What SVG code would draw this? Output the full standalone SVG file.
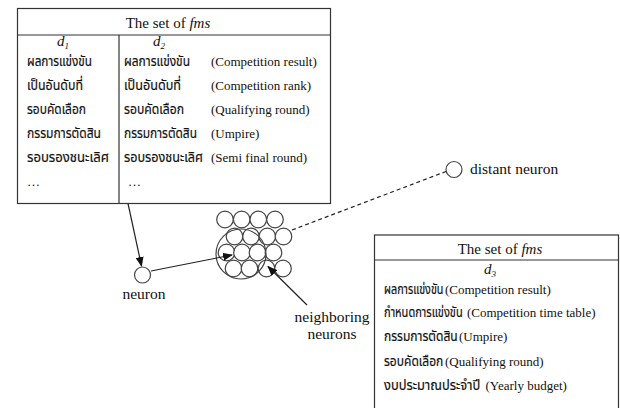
<svg xmlns="http://www.w3.org/2000/svg" width="620" height="408" viewBox="0 0 620 408">
<style>
text{font-family:'Liberation Serif','Times New Roman',Tinos,'DejaVu Serif',serif;font-size:13px;fill:#111}
.th{font-family:'Noto Sans Thai','Noto Serif Thai','Noto Sans',sans-serif;font-size:14px;fill:#111;stroke:#111;stroke-width:0.2}
.t{font-size:15px}
.lbl{font-size:15.5px}
.box{fill:#fff;stroke:#333;stroke-width:1.2}
.ln{stroke:#333;stroke-width:1.2;fill:none}
.c{fill:#fff;stroke:#444;stroke-width:1.2}
.cl{fill:none;stroke:#444;stroke-width:1.2}
.con{stroke:#222;stroke-width:1.2;fill:none}
</style>
<defs>
<marker id="ah" markerWidth="10" markerHeight="8" refX="9" refY="4" orient="auto" markerUnits="userSpaceOnUse">
<path d="M0,0 L10,4 L0,8 Z" fill="#111"/>
</marker>
</defs>
<rect width="620" height="408" fill="#fff"/>

<g id="fms-top">
<rect class="box" x="17.5" y="8.5" width="313" height="195"/>
<line class="ln" x1="17.5" y1="35" x2="330.5" y2="35"/>
<line class="ln" x1="119" y1="35" x2="119" y2="203.5"/>
<text class="t" x="168" y="28" text-anchor="middle">The set of <tspan font-style="italic">fms</tspan></text>
<text x="57" y="46" font-style="italic" class="t">d<tspan font-size="9" dy="3">1</tspan></text>
<text x="153" y="46" font-style="italic" class="t">d<tspan font-size="9" dy="3">2</tspan></text>
<text class="th" x="27" y="66" textLength="65" lengthAdjust="spacingAndGlyphs">ผลการแข่งขัน</text>
<text class="th" x="27" y="90" textLength="56" lengthAdjust="spacingAndGlyphs">เป็นอันดับที่</text>
<text class="th" x="27" y="114" textLength="59" lengthAdjust="spacingAndGlyphs">รอบคัดเลือก</text>
<text class="th" x="27" y="138" textLength="74" lengthAdjust="spacingAndGlyphs">กรรมการตัดสิน</text>
<text class="th" x="27" y="162" textLength="82" lengthAdjust="spacingAndGlyphs">รอบรองชนะเลิศ</text>
<text x="27" y="186">…</text>
<text class="th" x="124" y="66" textLength="66" lengthAdjust="spacingAndGlyphs">ผลการแข่งขัน</text>
<text class="th" x="124" y="90" textLength="57" lengthAdjust="spacingAndGlyphs">เป็นอันดับที่</text>
<text class="th" x="124" y="114" textLength="60" lengthAdjust="spacingAndGlyphs">รอบคัดเลือก</text>
<text class="th" x="124" y="138" textLength="73" lengthAdjust="spacingAndGlyphs">กรรมการตัดสิน</text>
<text class="th" x="124" y="162" textLength="79" lengthAdjust="spacingAndGlyphs">รอบรองชนะเลิศ</text>
<text x="128" y="186">…</text>
<text x="211" y="66">(Competition result)</text>
<text x="211" y="90">(Competition rank)</text>
<text x="211" y="114">(Qualifying round)</text>
<text x="211" y="138">(Umpire)</text>
<text x="211" y="162">(Semi final round)</text>
</g>

<g id="fms-bottom">
<rect class="box" x="374.5" y="235" width="244" height="180"/>
<line class="ln" x1="374.5" y1="260" x2="618.5" y2="260"/>
<text class="t" x="500" y="254" text-anchor="middle">The set of <tspan font-style="italic">fms</tspan></text>
<text x="484" y="274" font-style="italic" class="t">d<tspan font-size="9" dy="3">3</tspan></text>
<text class="th" transform="translate(384,294) scale(0.77,1)">ผลการแข่งขัน</text>
<text x="445" y="294">(Competition result)</text>
<text class="th" transform="translate(384,317) scale(0.79,1)">กำหนดการแข่งขัน</text>
<text x="467" y="317">(Competition time table)</text>
<text class="th" transform="translate(384,341) scale(0.86,1)">กรรมการตัดสิน</text>
<text x="459" y="341">(Umpire)</text>
<text class="th" transform="translate(384,366) scale(0.86,1)">รอบคัดเลือก</text>
<text x="445" y="366">(Qualifying round)</text>
<text class="th" transform="translate(384,390) scale(0.92,1)">งบประมาณประจำปี</text>
<text x="485.5" y="390">(Yearly budget)</text>
</g>

<g id="neuron">
<circle class="c" cx="142.5" cy="275" r="8"/>
<text class="lbl" x="144" y="299" text-anchor="middle">neuron</text>
</g>

<g id="distant-neuron">
<circle class="c" cx="454" cy="169.5" r="8"/>
<text class="lbl" x="470" y="174">distant neuron</text>
</g>

<g id="neuron-map">
<circle class="c" cx="225" cy="219.5" r="8.3"/>
<circle class="c" cx="241.7" cy="219.5" r="8.3"/>
<circle class="c" cx="258.3" cy="219.5" r="8.3"/>
<circle class="c" cx="275" cy="219.5" r="8.3"/>
<circle class="c" cx="234.5" cy="236.5" r="8.3"/>
<circle class="c" cx="251" cy="236.5" r="8.3"/>
<circle class="c" cx="267.3" cy="236.5" r="8.3"/>
<circle class="c" cx="283.5" cy="236.5" r="8.3"/>
<circle class="c" cx="226.5" cy="252.5" r="8.3"/>
<circle class="c" cx="242" cy="252.5" r="8.3"/>
<circle class="c" cx="257.5" cy="252.5" r="8.3"/>
<circle class="c" cx="273.5" cy="252.5" r="8.3"/>
<circle class="c" cx="233.5" cy="268.5" r="8.3"/>
<circle class="c" cx="249.5" cy="268.5" r="8.3"/>
<circle class="c" cx="266.5" cy="268.5" r="8.3"/>
<circle class="c" cx="283" cy="268.5" r="8.3"/>
<circle class="cl" cx="241" cy="254" r="25"/>
</g>

<g id="neighboring-label">
<text class="lbl" x="332" y="322" text-anchor="middle">neighboring</text>
<text class="lbl" x="332" y="339" text-anchor="middle">neurons</text>
</g>

<g id="connectors">
<line class="con" x1="128" y1="203.5" x2="141.5" y2="266" marker-end="url(#ah)"/>
<line class="con" x1="151" y1="271" x2="232" y2="255" marker-end="url(#ah)"/>
<line class="con" x1="307" y1="305" x2="268" y2="266.5" marker-end="url(#ah)"/>
<line class="con" x1="292" y1="230" x2="446" y2="171.5" stroke-dasharray="4,3"/>
</g>
</svg>
